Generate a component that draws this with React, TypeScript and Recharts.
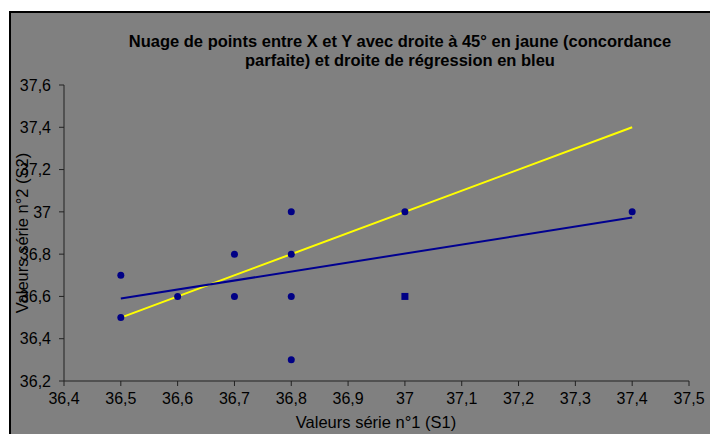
import { ScatterChart, Scatter, XAxis, YAxis } from 'recharts'

// observed pairs (S1, S2)
const s1 = [36.5, 36.5, 36.6, 36.7, 36.7, 36.8, 36.8, 36.8, 36.8, 37, 37.4]
const s2 = [36.7, 36.5, 36.6, 36.8, 36.6, 37, 36.8, 36.6, 36.3, 37, 37]
// the (37 ; 36,6) point is drawn as a square marker in the original
const squareX = [37]
const squareY = [36.6]

// 45° line and regression line end points
const diagX = [36.5, 37.4]
const diagY = [36.5, 37.4]
const regX = [36.5, 37.4]
const regY = [36.59, 36.973]

const xTicks = [36.4, 36.5, 36.6, 36.7, 36.8, 36.9, 37, 37.1, 37.2, 37.3, 37.4, 37.5]
const yTicks = [36.2, 36.4, 36.6, 36.8, 37, 37.2, 37.4, 37.6]

const pts = s1.map((x, i) => ({ x, y: s2[i] }))
const squares = squareX.map((x, i) => ({ x, y: squareY[i] }))
const diag = diagX.map((x, i) => ({ x, y: diagY[i] }))
const reg = regX.map((x, i) => ({ x, y: regY[i] }))

const fmt = (v: number) => String(v).replace('.', ',')
const FONT = '"Liberation Sans", Arial, sans-serif'
const NAVY = '#000085'

const noShape = () => <g />

export default function App() {
  return (
    <div style={{ position: 'fixed', left: 0, top: 0, width: 710, height: 434, background: '#fff', fontFamily: FONT }}>
      <div
        style={{
          position: 'absolute', left: 9, top: 11, right: 0, bottom: 0,
          background: '#808080', borderLeft: '2px solid #000', borderTop: '2px solid #000',
        }}
      />
      <div
        style={{
          position: 'absolute', left: 50, width: 700, top: 32, textAlign: 'center',
          fontSize: 16.5, fontWeight: 'bold', lineHeight: '19px', color: '#000', whiteSpace: 'nowrap',
        }}
      >
        Nuage de points entre X et Y avec droite à 45° en jaune (concordance
        <br />
        parfaite) et droite de régression en bleu
      </div>
      <div
        style={{
          position: 'absolute', left: 22, top: 233, fontSize: 16.5, color: '#000',
          transform: 'translate(-50%, -50%) rotate(-90deg)', whiteSpace: 'nowrap',
        }}
      >
        Valeurs série n°2 (S2)
      </div>
      <div
        style={{
          position: 'absolute', left: 376, top: 422, fontSize: 16.5, color: '#000',
          transform: 'translate(-50%, -50%)', whiteSpace: 'nowrap',
        }}
      >
        Valeurs série n°1 (S1)
      </div>
      <div style={{ position: 'absolute', left: 0, top: 0 }}>
        <ScatterChart width={710} height={434} margin={{ top: 85, right: 21, bottom: 0, left: 0 }}>
          <XAxis
            type="number"
            dataKey="x"
            domain={[36.4, 37.5]}
            ticks={xTicks}
            tickFormatter={fmt}
            height={53}
            stroke="#222"
            tickSize={5}
            tickMargin={7}
            tick={{ fill: '#000', fontSize: 16, fontFamily: FONT }}
            allowDataOverflow
          />
          <YAxis
            type="number"
            dataKey="y"
            domain={[36.2, 37.6]}
            ticks={yTicks}
            tickFormatter={fmt}
            width={64}
            stroke="#222"
            tickSize={5}
            tickMargin={8}
            tick={{ fill: '#000', fontSize: 16, fontFamily: FONT }}
            allowDataOverflow
          />
          <Scatter data={diag} line={{ stroke: '#ffff00', strokeWidth: 2 }} shape={noShape} isAnimationActive={false} />
          <Scatter data={reg} line={{ stroke: '#000090', strokeWidth: 2 }} shape={noShape} isAnimationActive={false} />
          <Scatter data={pts} isAnimationActive={false}
            shape={(p: any) => <circle cx={p.cx} cy={p.cy} r={3.5} fill={NAVY} />} />
          <Scatter data={squares} isAnimationActive={false}
            shape={(p: any) => <rect x={p.cx - 3.5} y={p.cy - 3.5} width={7} height={7} fill={NAVY} />} />
        </ScatterChart>
      </div>
    </div>
  )
}
